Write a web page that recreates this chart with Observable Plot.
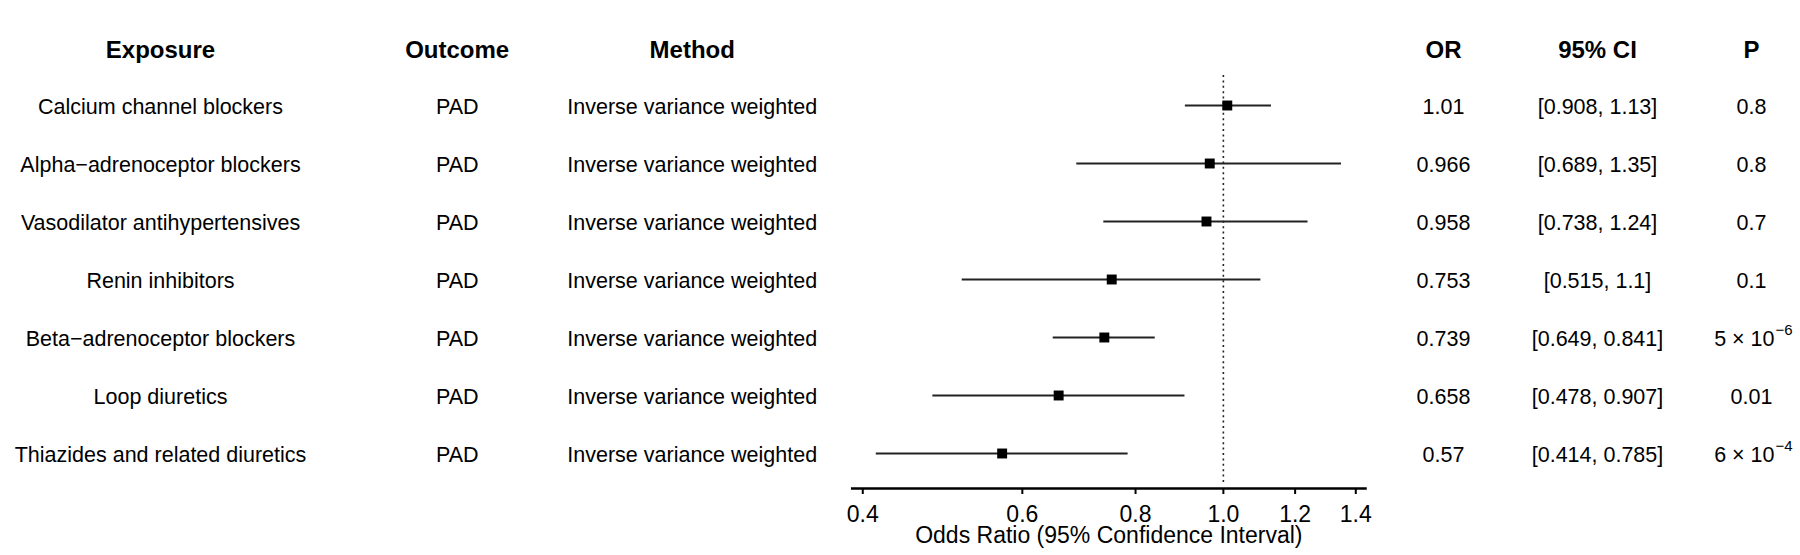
<!DOCTYPE html>
<html>
<head>
<meta charset="utf-8">
<script src="https://cdn.jsdelivr.net/npm/d3@7"></script>
<script src="https://cdn.jsdelivr.net/npm/@observablehq/plot@0.6"></script>
<style>
  html, body { margin: 0; padding: 0; background: #fff; }
  #chart svg { display: block; }
</style>
</head>
<body>
<div id="chart"></div>
<script>
// ---- data ----
const exposures = [
  "Calcium channel blockers",
  "Alpha\u2212adrenoceptor blockers",
  "Vasodilator antihypertensives",
  "Renin inhibitors",
  "Beta\u2212adrenoceptor blockers",
  "Loop diuretics",
  "Thiazides and related diuretics"
];
const outcomes = ["PAD", "PAD", "PAD", "PAD", "PAD", "PAD", "PAD"];
const methods = [
  "Inverse variance weighted", "Inverse variance weighted", "Inverse variance weighted",
  "Inverse variance weighted", "Inverse variance weighted", "Inverse variance weighted",
  "Inverse variance weighted"
];
const orValues = [1.01, 0.966, 0.958, 0.753, 0.739, 0.658, 0.57];
const ciLower = [0.908, 0.689, 0.738, 0.515, 0.649, 0.478, 0.414];
const ciUpper = [1.13, 1.35, 1.24, 1.1, 0.841, 0.907, 0.785];
const pLabels = ["0.8", "0.8", "0.7", "0.1", "5 \u00d7 10^\u22126", "0.01", "6 \u00d7 10^\u22124"];
const headers = ["Exposure", "Outcome", "Method", "OR", "95% CI", "P"];
const xTicks = [0.4, 0.6, 0.8, 1.0, 1.2, 1.4];
const xDomain = [0.3894, 1.435];
const axisTitle = "Odds Ratio (95% Confidence Interval)";

// ---- table built from arrays ----
const fmt = d3.format(".3~g");
const rows = exposures.map((e, i) => {
  const [pBase, pExp] = pLabels[i].split("^");
  return {
    exposure: e,
    outcome: outcomes[i],
    method: methods[i],
    or: orValues[i],
    lo: ciLower[i],
    hi: ciUpper[i],
    orText: fmt(orValues[i]),
    ciText: `[${fmt(ciLower[i])}, ${fmt(ciUpper[i])}]`,
    pBase,
    pExp: pExp || ""
  };
});
const HEADER = "__header__";

// column placement (pixel offsets from the plot frame edges)
const leftCols = [
  {key: "exposure", head: headers[0], dx: -691.7},
  {key: "outcome", head: headers[1], dx: -395},
  {key: "method", head: headers[2], dx: -160}
];
const rightCols = [
  {key: "orText", head: headers[3], dx: 78},
  {key: "ciText", head: headers[4], dx: 232}
];
const pDx = 386;

const bodyFont = 21.5, headFont = 24;
const textMarks = [];
for (const c of leftCols) {
  textMarks.push(Plot.text(rows, {y: "exposure", text: c.key, frameAnchor: "left", textAnchor: "middle", dx: c.dx, dy: 2, fontSize: bodyFont}));
  textMarks.push(Plot.text([c.head], {y: () => HEADER, text: d => d, frameAnchor: "left", textAnchor: "middle", dx: c.dx, dy: 2.5, fontSize: headFont, fontWeight: "bold"}));
}
for (const c of rightCols) {
  textMarks.push(Plot.text(rows, {y: "exposure", text: c.key, frameAnchor: "right", textAnchor: "middle", dx: c.dx, dy: 2, fontSize: bodyFont}));
  textMarks.push(Plot.text([c.head], {y: () => HEADER, text: d => d, frameAnchor: "right", textAnchor: "middle", dx: c.dx, dy: 2.5, fontSize: headFont, fontWeight: "bold"}));
}
// P column: plain values centred, scientific values as base + superscript exponent
textMarks.push(Plot.text([headers[5]], {y: () => HEADER, text: d => d, frameAnchor: "right", textAnchor: "middle", dx: pDx, dy: 2.5, fontSize: headFont, fontWeight: "bold"}));
textMarks.push(Plot.text(rows.filter(d => !d.pExp), {y: "exposure", text: "pBase", frameAnchor: "right", textAnchor: "middle", dx: pDx, dy: 2, fontSize: bodyFont}));
textMarks.push(Plot.text(rows.filter(d => d.pExp), {y: "exposure", text: "pBase", frameAnchor: "right", textAnchor: "end", dx: pDx + 23, dy: 2, fontSize: bodyFont}));
textMarks.push(Plot.text(rows.filter(d => d.pExp), {y: "exposure", text: "pExp", frameAnchor: "right", textAnchor: "start", dx: pDx + 24, dy: -7, fontSize: 15}));

const chart = Plot.plot({
  width: 1800,
  height: 555,
  marginLeft: 851.7,
  marginRight: 435,
  marginTop: 75,
  marginBottom: 67,
  style: {fontFamily: "'Liberation Sans', Arial, Helvetica, sans-serif", color: "#000", background: "#fff", overflow: "visible"},
  x: {type: "log", domain: xDomain},
  y: {type: "point", domain: [HEADER, ...exposures], range: [45.7, 454], padding: 0, axis: null},
  marks: [
    Plot.frame({anchor: "bottom", strokeWidth: 2.5, stroke: "#000"}),
    Plot.ruleX([1], {stroke: "#222", strokeWidth: 1.6, strokeDasharray: "2 3.4", insetBottom: 5}),
    Plot.ruleY(rows, {y: "exposure", x1: "lo", x2: "hi", stroke: "#222", strokeWidth: 2}),
    Plot.dot(rows, {y: "exposure", x: "or", symbol: "square", fill: "#000", stroke: null, r: 5.6}),
    Plot.axisX({ticks: xTicks, tickFormat: d => d.toFixed(1), tickSize: 6, tickPadding: 11, fontSize: 23, strokeWidth: 2, label: null}),
    Plot.text([axisTitle], {frameAnchor: "bottom", dy: 54.5, fontSize: 23}),
    ...textMarks
  ]
});
document.getElementById("chart").appendChild(chart);
</script>
</body>
</html>
